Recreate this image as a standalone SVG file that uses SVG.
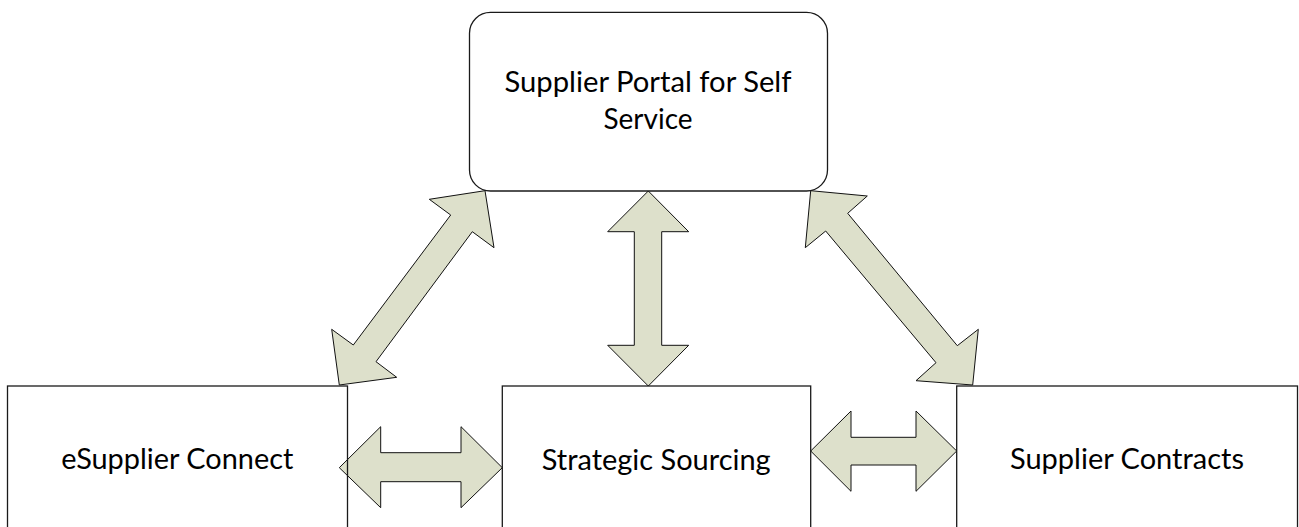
<svg xmlns="http://www.w3.org/2000/svg" width="1299" height="527" viewBox="0 0 1299 527">
<style>
.box{fill:none;stroke:#1a1a1a;stroke-width:1.3}
.arr{fill:#dde0cb;stroke:#111;stroke-width:1;stroke-linejoin:miter}
.lbl{font-family:Lato,"Open Sans","Liberation Sans",sans-serif;font-size:29px;fill:#000;text-anchor:middle}
</style>
<rect x="0" y="0" width="1299" height="527" fill="#fff"/>
<g id="connectors">
<polygon class="arr" points="485,190.7 429.3,199.3 450.7,215 353.3,345 331.7,329.3 339.3,385 396.7,377.3 376,361.7 472.3,231.7 494,247.7"/>
<polygon class="arr" points="648.3,191 688.7,231.7 661.7,231.7 661.7,345.3 688.7,345.3 648.3,386 607.7,345.3 634.3,345.3 634.3,231.7 607.7,231.7"/>
<polygon class="arr" points="810.7,190.7 867.3,196 847.7,213.3 957.3,345.7 978.3,329.3 972.7,385 916,380.7 936,362.7 825.7,231 805.3,247.7"/>
<polygon class="arr" points="339.3,467.7 380.7,426.7 380.7,452.7 461,452.7 461,426.7 502.3,467.7 461,507.7 461,481.7 380.7,481.7 380.7,507.7"/>
<polygon class="arr" points="810.7,451 851,411 851,437.3 916,437.3 916,411 956.7,451 916,491.3 916,465 851,465 851,491.3"/>
</g>
<g id="portal">
<rect class="box" x="469.5" y="12.3" width="358" height="178.7" rx="21" ry="21"/>
<text class="lbl" x="648" y="91.7" textLength="287" lengthAdjust="spacingAndGlyphs">Supplier Portal for Self</text>
<text class="lbl" x="648" y="129.3" textLength="89" lengthAdjust="spacingAndGlyphs">Service</text>
</g>
<g id="esupplier">
<rect class="box" x="7.5" y="386" width="340" height="160"/>
<text class="lbl" x="177.3" y="469.3" textLength="232" lengthAdjust="spacingAndGlyphs">eSupplier Connect</text>
</g>
<g id="sourcing">
<rect class="box" x="502.3" y="386" width="308.4" height="160"/>
<text class="lbl" x="656.2" y="469.8" textLength="229" lengthAdjust="spacingAndGlyphs">Strategic Sourcing</text>
</g>
<g id="contracts">
<rect class="box" x="956.7" y="386" width="340.8" height="160"/>
<text class="lbl" x="1127" y="469.3" textLength="234" lengthAdjust="spacingAndGlyphs">Supplier Contracts</text>
</g>
</svg>
